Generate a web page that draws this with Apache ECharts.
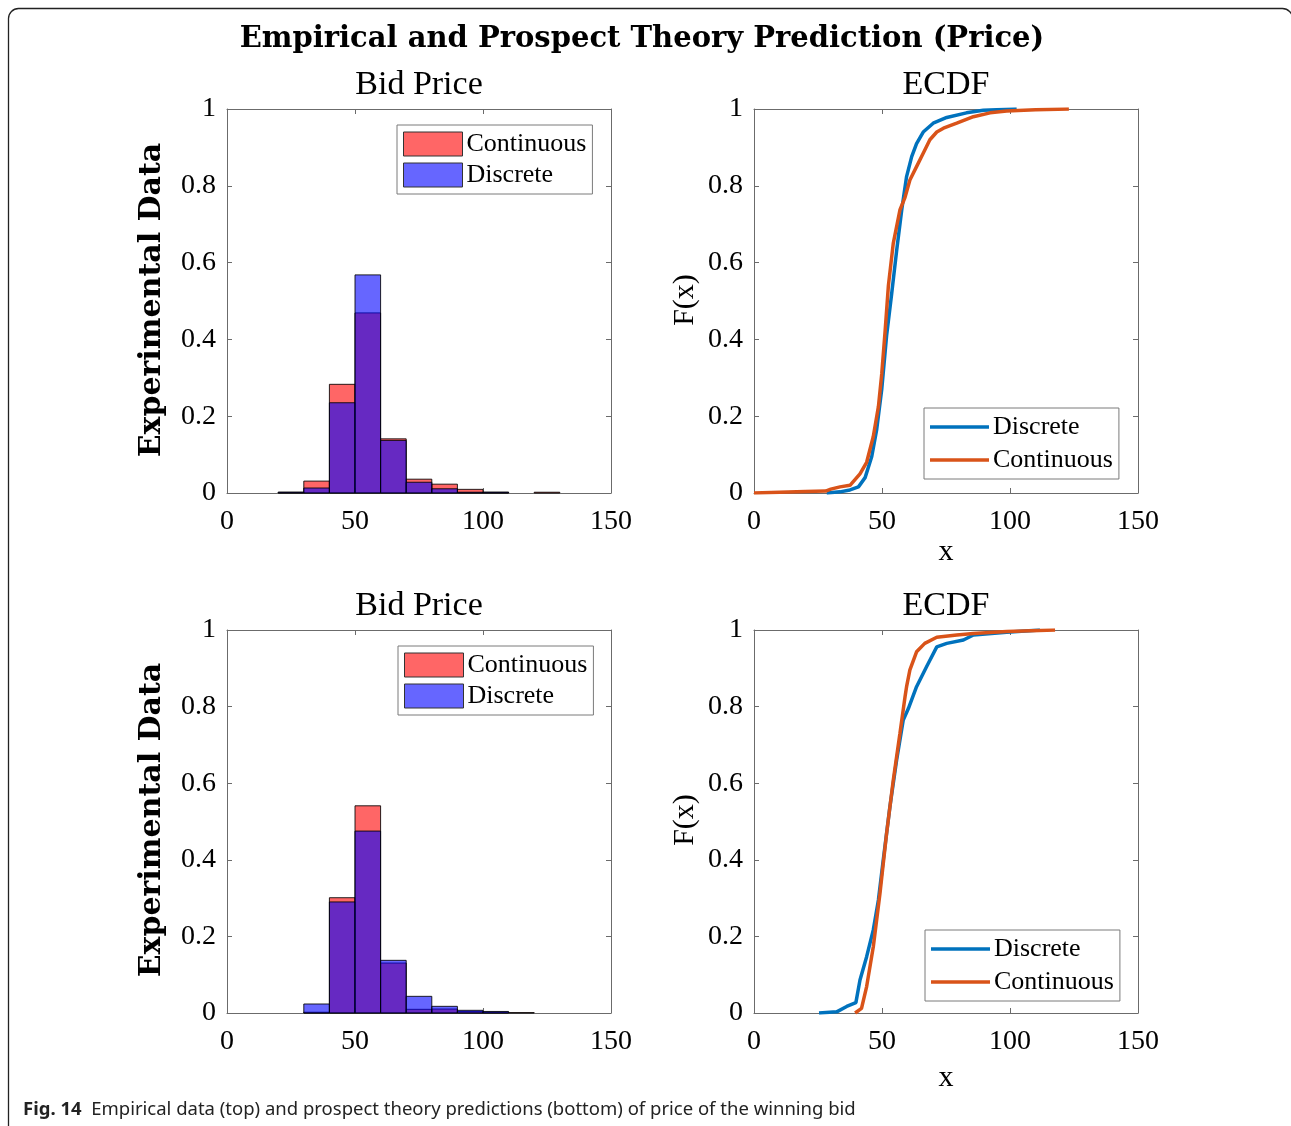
<!DOCTYPE html>
<html>
<head>
<meta charset="utf-8">
<title>Empirical and Prospect Theory Prediction (Price)</title>
<script src="https://cdn.jsdelivr.net/npm/echarts@6/dist/echarts.min.js"></script>
<style>
    html, body { margin: 0; padding: 0; background: #fff; }
    #chart { width: 1291px; height: 1126px; }
</style>
</head>
<body>
<div id="chart"></div>
<script>
// histogram bins (bid price), width 10
var binEdgesTop = [20, 30, 40, 50, 60, 70, 80, 90, 100, 110, 120, 130];
var histTopContinuous = [0.002, 0.031, 0.283, 0.469, 0.141, 0.036, 0.023, 0.0095, 0.002, 0, 0.002];
var histTopDiscrete   = [0.002, 0.013, 0.235, 0.568, 0.137, 0.028, 0.011, 0.002, 0.002, 0, 0];

var binEdgesBottom = [30, 40, 50, 60, 70, 80, 90, 100, 110, 120];
var histBottomContinuous = [0.002, 0.301, 0.541, 0.1305, 0.0096, 0.0104, 0.004, 0.002, 0.001];
var histBottomDiscrete   = [0.0235, 0.290, 0.475, 0.1375, 0.0435, 0.0174, 0.007, 0.004, 0];

// ECDF curves, empirical (top)
var ecdfTopDiscreteX = [28.4, 33.6, 37.5, 40.8, 43.4, 46, 47.9, 49.9, 51.8, 53.8, 55.7, 57.7, 59.6, 61.6, 63.5, 66.1, 70, 75.3, 83, 89.6, 102.6];
var ecdfTopDiscreteY = [0, 0.003, 0.008, 0.016, 0.04, 0.095, 0.164, 0.27, 0.41, 0.52, 0.63, 0.737, 0.824, 0.876, 0.91, 0.94, 0.963, 0.978, 0.99, 0.997, 1];
var ecdfTopContinuousX = [0, 10, 20, 28, 30, 33.6, 37.5, 41.4, 44, 46.6, 48.6, 49.9, 51.2, 52.5, 54.4, 57, 59, 60.9, 63.5, 66.1, 68.7, 71.4, 74, 79.2, 85.7, 92.2, 98.7, 110, 123];
var ecdfTopContinuousY = [0, 0.002, 0.004, 0.005, 0.01, 0.016, 0.02, 0.05, 0.08, 0.147, 0.225, 0.31, 0.42, 0.54, 0.65, 0.737, 0.77, 0.815, 0.85, 0.885, 0.92, 0.94, 0.95, 0.963, 0.98, 0.99, 0.995, 0.998, 1];

// ECDF curves, prospect theory (bottom)
var ecdfBottomDiscreteX = [25.4, 32.3, 36.2, 39.8, 41.4, 44, 46.6, 48.6, 50.5, 53.1, 55.7, 58.3, 60.3, 63.5, 67.4, 71.4, 75.3, 81.8, 85.7, 98.7, 111.7];
var ecdfBottomDiscreteY = [0, 0.003, 0.017, 0.027, 0.086, 0.147, 0.217, 0.295, 0.40, 0.539, 0.66, 0.765, 0.795, 0.852, 0.904, 0.956, 0.965, 0.974, 0.987, 0.994, 1];
var ecdfBottomContinuousX = [39.5, 42, 44, 46.6, 49.2, 51.8, 54.4, 57, 59, 59.6, 60.9, 63.5, 66.7, 71.4, 79.2, 85.7, 98.7, 117.6];
var ecdfBottomContinuousY = [0, 0.012, 0.069, 0.173, 0.312, 0.469, 0.608, 0.73, 0.826, 0.852, 0.896, 0.943, 0.965, 0.981, 0.987, 0.991, 0.996, 1];

var SERIF = '"Liberation Serif", "Times New Roman", serif';
var AXIS_COLOR = '#6b6b6b';
var RED = 'rgba(255,0,0,0.6)';
var BLUE = 'rgba(0,0,255,0.6)';
var LINE_BLUE = '#0072BD';
var LINE_ORANGE = '#D95319';

var legendNames = {
    hTopCont: 'Continuous', hTopDisc: 'Discrete',
    hBotCont: 'Continuous', hBotDisc: 'Discrete',
    eTopDisc: 'Discrete', eTopCont: 'Continuous',
    eBotDisc: 'Discrete', eBotCont: 'Continuous'
};

function histData(edges, values) {
    var out = [];
    for (var i = 0; i < values.length; i++) {
        out.push([edges[i], edges[i + 1], values[i]]);
    }
    return out;
}

function zipXY(xs, ys) {
    var out = [];
    for (var i = 0; i < xs.length; i++) out.push([xs[i], ys[i]]);
    return out;
}

function renderBin(params, api) {
    var h = api.value(2);
    if (!h) return;
    var p0 = api.coord([api.value(0), h]);
    var p1 = api.coord([api.value(1), 0]);
    return {
        type: 'rect',
        shape: { x: p0[0], y: p0[1], width: p1[0] - p0[0], height: p1[1] - p0[1] },
        style: { fill: api.visual('color'), stroke: 'rgba(0,0,0,0.85)', lineWidth: 1 }
    };
}

function histSeries(name, axisIdx, data, color) {
    return {
        type: 'custom', name: name, xAxisIndex: axisIdx, yAxisIndex: axisIdx,
        renderItem: renderBin,
        itemStyle: { color: color, borderColor: '#000', borderWidth: 1 },
        encode: { x: [0, 1], y: 2 },
        data: data
    };
}

function lineSeries(name, axisIdx, data, color) {
    return {
        type: 'line', name: name, xAxisIndex: axisIdx, yAxisIndex: axisIdx,
        showSymbol: false, symbol: 'none',
        lineStyle: { color: color, width: 3.5 },
        itemStyle: { color: color },
        data: data
    };
}

// grids: 0 top hist, 1 top ecdf, 2 bottom hist, 3 bottom ecdf
var grids = [
    { left: 227, top: 109, width: 384, height: 384 },
    { left: 754, top: 109, width: 384, height: 384 },
    { left: 227, top: 630, width: 384, height: 383 },
    { left: 754, top: 630, width: 384, height: 383 }
];

var xAxes = [], yAxes = [];
for (var g = 0; g < 4; g++) {
    xAxes.push({
        type: 'value', gridIndex: g, min: 0, max: 150, interval: 50,
        axisLine: { show: true, lineStyle: { color: AXIS_COLOR, width: 1 } },
        axisTick: { show: true, inside: true, length: 5, lineStyle: { color: AXIS_COLOR } },
        axisLabel: { show: true, color: '#000', fontFamily: SERIF, fontSize: 28, margin: 15, showMinLabel: true, showMaxLabel: true },
        splitLine: { show: false }
    });
    yAxes.push({
        type: 'value', gridIndex: g, min: 0, max: 1, interval: 0.2,
        axisLine: { show: true, lineStyle: { color: AXIS_COLOR, width: 1 } },
        axisTick: { show: true, inside: true, length: 5, lineStyle: { color: AXIS_COLOR } },
        axisLabel: { show: true, color: '#000', fontFamily: SERIF, fontSize: 28, margin: 11, padding: [4, 0, 0, 0], showMinLabel: true, showMaxLabel: true },
        splitLine: { show: false }
    });
}
// box: top and right axes with inward ticks only
for (var g2 = 0; g2 < 4; g2++) {
    xAxes.push({
        type: 'value', gridIndex: g2, position: 'top', min: 0, max: 150, interval: 50,
        axisLine: { show: true, onZero: false, lineStyle: { color: AXIS_COLOR, width: 1 } },
        axisTick: { show: true, inside: true, length: 5, lineStyle: { color: AXIS_COLOR } },
        axisLabel: { show: false }, splitLine: { show: false }
    });
    yAxes.push({
        type: 'value', gridIndex: g2, position: 'right', min: 0, max: 1, interval: 0.2,
        axisLine: { show: true, onZero: false, lineStyle: { color: AXIS_COLOR, width: 1 } },
        axisTick: { show: true, inside: true, length: 5, lineStyle: { color: AXIS_COLOR } },
        axisLabel: { show: false }, splitLine: { show: false }
    });
}

function legendBox(left, top, names, isHist) {
    var l = {
        orient: 'vertical', left: left, top: top,
        data: names,
        icon: 'rect',
        itemWidth: 59, itemHeight: 24, itemGap: 5,
        padding: [6, 6, 6, 6],
        backgroundColor: '#fff', borderColor: '#7a7a7a', borderWidth: 1, borderRadius: 0,
        textStyle: { fontFamily: SERIF, fontSize: 26, color: '#000', padding: [0, 0, 0, -1] },
        formatter: function (n) { return legendNames[n]; },
        selectedMode: false
    };
    if (isHist) {
        l.itemStyle = { borderColor: '#333', borderWidth: 1 };
    } else {
        // plain line swatch
        l.itemHeight = 3.5;
        l.itemGap = 7;
        l.padding = [6, 6, 6, 6];
        l.itemStyle = { borderWidth: 0 };
    }
    return l;
}

var graphics = [
    // rounded frame round the figure
    { type: 'rect', shape: { x: 8.5, y: 8.5, width: 1284, height: 1200, r: 10 },
      style: { fill: 'none', stroke: '#222', lineWidth: 1.3 }, silent: true },
    { type: 'text', x: 642, y: 39, style: { text: 'Empirical and Prospect Theory Prediction (Price)', fill: '#000',
      font: 'bold 29px "DejaVu Serif", serif', textAlign: 'center', textVerticalAlign: 'middle' } },
    { type: 'text', x: 23, y: 1110, style: { text: '{b|Fig. 14}  Empirical data (top) and prospect theory predictions (bottom) of price of the winning bid',
      fill: '#222', fontFamily: '"Noto Sans", sans-serif', fontSize: 18.5, textVerticalAlign: 'middle',
      rich: { b: { fontFamily: '"Noto Sans", sans-serif', fontSize: 18.5, fontWeight: 'bold', fill: '#222' } } } }
];

var rows = [85, 606];
var ymid = [300, 820];
var xlab = [552, 1078];
for (var r = 0; r < 2; r++) {
    graphics.push({ type: 'text', x: 419, y: rows[r], style: { text: 'Bid Price', fill: '#000', font: '34px ' + SERIF, textAlign: 'center', textVerticalAlign: 'middle' } });
    graphics.push({ type: 'text', x: 946, y: rows[r], style: { text: 'ECDF', fill: '#000', font: '34px ' + SERIF, textAlign: 'center', textVerticalAlign: 'middle' } });
    graphics.push({ type: 'text', x: 152, y: ymid[r], rotation: Math.PI / 2, style: { text: 'Experimental Data', fill: '#000', font: 'bold 30px "DejaVu Serif", serif', textAlign: 'center', textVerticalAlign: 'middle' } });
    graphics.push({ type: 'text', x: 685, y: ymid[r], rotation: Math.PI / 2, style: { text: 'F(x)', fill: '#000', font: '30px ' + SERIF, textAlign: 'center', textVerticalAlign: 'middle' } });
    graphics.push({ type: 'text', x: 946, y: xlab[r], style: { text: 'x', fill: '#000', font: '30px ' + SERIF, textAlign: 'center', textVerticalAlign: 'middle' } });
}

var chart = echarts.init(document.getElementById('chart'), null, { renderer: 'canvas' });
chart.setOption({
    backgroundColor: '#fff',
    animation: false,
    grid: grids,
    xAxis: xAxes,
    yAxis: yAxes,
    legend: [
        legendBox(397, 125, ['hTopCont', 'hTopDisc'], true),
        legendBox(924, 408, ['eTopDisc', 'eTopCont'], false),
        legendBox(398, 646, ['hBotCont', 'hBotDisc'], true),
        legendBox(925, 930, ['eBotDisc', 'eBotCont'], false)
    ],
    series: [
        histSeries('hTopCont', 0, histData(binEdgesTop, histTopContinuous), RED),
        histSeries('hTopDisc', 0, histData(binEdgesTop, histTopDiscrete), BLUE),
        lineSeries('eTopDisc', 1, zipXY(ecdfTopDiscreteX, ecdfTopDiscreteY), LINE_BLUE),
        lineSeries('eTopCont', 1, zipXY(ecdfTopContinuousX, ecdfTopContinuousY), LINE_ORANGE),
        histSeries('hBotCont', 2, histData(binEdgesBottom, histBottomContinuous), RED),
        histSeries('hBotDisc', 2, histData(binEdgesBottom, histBottomDiscrete), BLUE),
        lineSeries('eBotDisc', 3, zipXY(ecdfBottomDiscreteX, ecdfBottomDiscreteY), LINE_BLUE),
        lineSeries('eBotCont', 3, zipXY(ecdfBottomContinuousX, ecdfBottomContinuousY), LINE_ORANGE)
    ],
    graphic: graphics
});
</script>
</body>
</html>
